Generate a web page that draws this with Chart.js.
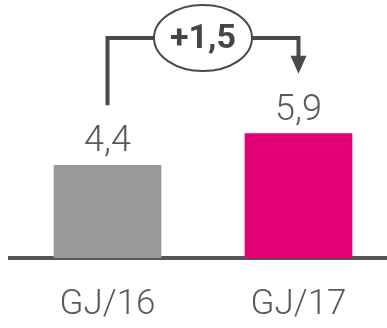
<!DOCTYPE html>
<html>
<head>
<meta charset="utf-8">
<script src="https://cdn.jsdelivr.net/npm/chart.js@4/dist/chart.umd.min.js"></script>
<style>
  html, body { margin: 0; padding: 0; background: #ffffff; }
  #wrap { width: 387px; height: 328px; }
</style>
</head>
<body>
<div id="wrap"><canvas id="c" width="387" height="328"></canvas></div>
<script>
// Fiscal years and their values
const categories = ['GJ/16', 'GJ/17'];
const values = [4.4, 5.9];
const barColors = ['#999999', '#e20074'];

const textColor = '#595959';
const lineColor = '#4a4a4a';
const fmt = v => v.toFixed(1).replace('.', ',');

// Value labels above each bar plus the bracket showing the change between years
const annotate = {
  id: 'annotate',
  afterDatasetsDraw(chart) {
    const ctx = chart.ctx;
    const bars = chart.getDatasetMeta(0).data;
    ctx.save();

    // value labels
    ctx.fillStyle = textColor;
    ctx.font = '300 36px Roboto';
    ctx.textAlign = 'center';
    ctx.textBaseline = 'alphabetic';
    bars.forEach((b, i) => ctx.fillText(fmt(values[i]), b.x, b.y - 14));

    // bracket
    const xL = bars[0].x, xR = bars[1].x;
    const cx = (xL + xR) / 2, cy = 38, rx = 49, ry = 33;
    ctx.strokeStyle = lineColor;
    ctx.fillStyle = lineColor;
    ctx.lineWidth = 4;
    ctx.lineJoin = 'miter';
    ctx.lineCap = 'butt';
    ctx.beginPath();
    ctx.moveTo(xL, bars[0].y - 60);
    ctx.lineTo(xL, cy);
    ctx.lineTo(cx - rx, cy);
    ctx.stroke();
    ctx.beginPath();
    ctx.moveTo(cx + rx, cy);
    ctx.lineTo(xR, cy);
    ctx.lineTo(xR, bars[1].y - 76);
    ctx.stroke();
    // arrow head
    const tip = bars[1].y - 60;
    ctx.beginPath();
    ctx.moveTo(xR - 8, tip - 18);
    ctx.lineTo(xR + 8, tip - 18);
    ctx.lineTo(xR, tip);
    ctx.closePath();
    ctx.fill();

    // ellipse with the difference
    ctx.beginPath();
    ctx.ellipse(cx, cy, rx, ry, 0, 0, Math.PI * 2);
    ctx.fillStyle = '#ffffff';
    ctx.fill();
    ctx.lineWidth = 2;
    ctx.stroke();
    ctx.fillStyle = '#454545';
    ctx.font = 'bold 34px Roboto';
    ctx.textBaseline = 'middle';
    const diff = values[1] - values[0];
    ctx.fillText((diff >= 0 ? '+' : '') + fmt(diff), cx, cy + 1);

    ctx.restore();
  }
};

new Chart(document.getElementById('c'), {
  type: 'bar',
  data: {
    datasets: [{
      data: values.map((v, i) => ({ x: i, y: v })),
      backgroundColor: barColors,
      barThickness: 107,
      borderWidth: 0
    }]
  },
  options: {
    responsive: false,
    devicePixelRatio: 1,
    animation: false,
    layout: { padding: { left: 10, right: 0, top: 0, bottom: -24 } },
    plugins: { legend: { display: false }, tooltip: { enabled: false } },
    scales: {
      x: {
        type: 'linear',
        offset: false,
        min: -0.5105,
        max: 1.4634,
        z: 1,
        afterBuildTicks: s => { s.ticks = categories.map((_, i) => ({ value: i })); },
        ticks: {
          callback: v => categories[v],
          color: textColor,
          font: { family: 'Roboto', size: 35, weight: 300 },
          padding: 26,
          autoSkip: false,
          maxRotation: 0
        },
        grid: { display: false, drawTicks: false, offset: false },
        border: { display: true, color: '#555555', width: 4 }
      },
      y: { display: false, min: 0, max: 12.24 }
    }
  },
  plugins: [annotate]
});
</script>
</body>
</html>
